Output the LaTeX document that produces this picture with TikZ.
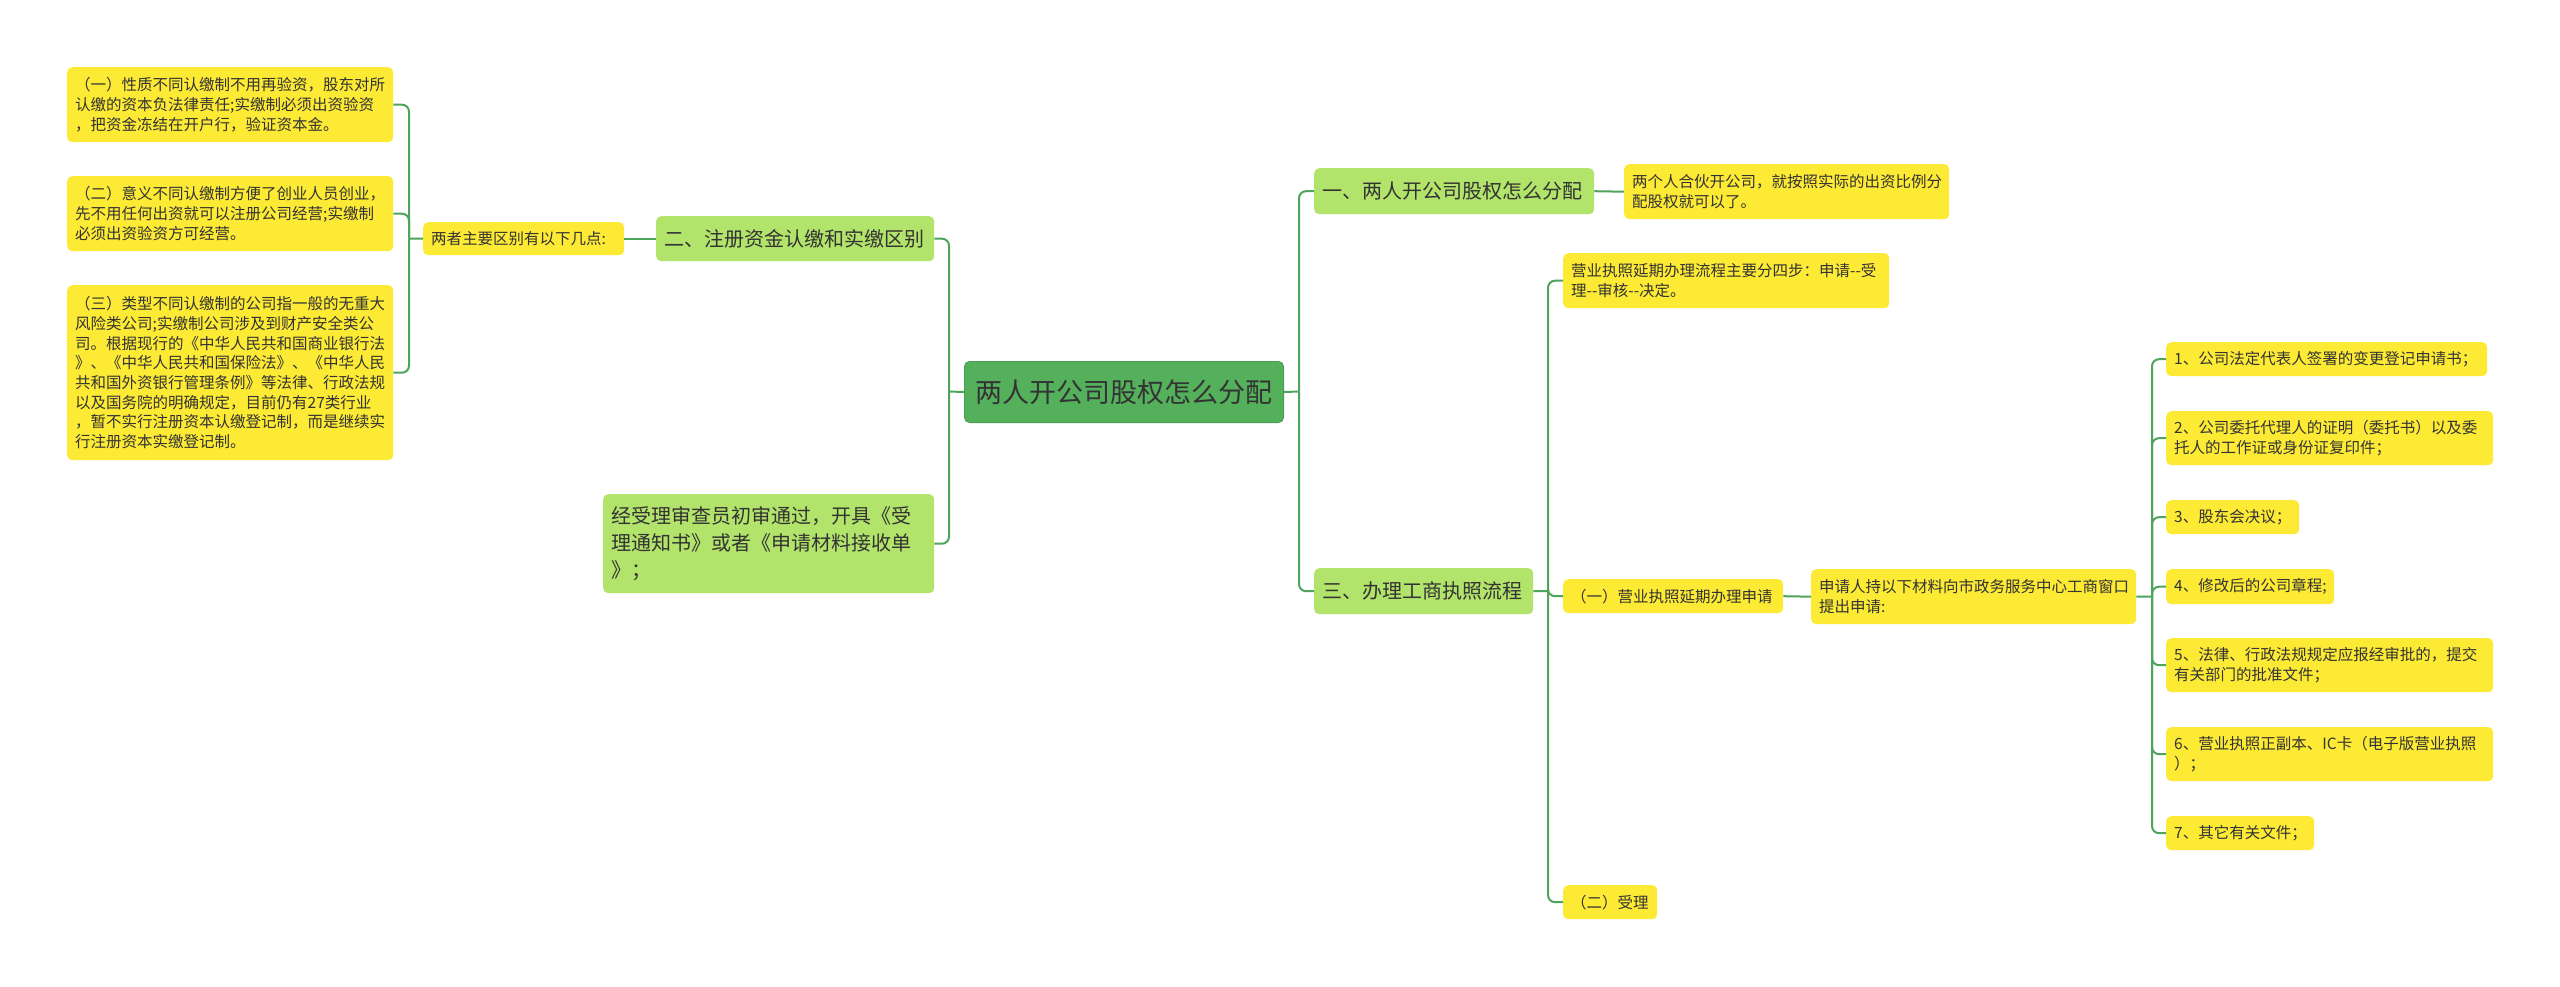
\documentclass[tikz,border=0pt]{standalone}
\usepackage{fontspec}
\newfontfamily\cjk{Noto Sans CJK SC}
\definecolor{yel}{HTML}{FDEA35}
\definecolor{lgr}{HTML}{B2E36A}
\definecolor{dgr}{HTML}{55B05C}
\definecolor{dgrb}{HTML}{4A9F52}
\definecolor{lnc}{HTML}{4EA45B}
\definecolor{txt}{HTML}{333333}
\begin{document}
\begin{tikzpicture}[x=1pt,y=-1pt,
  base/.style={rounded corners=5pt, inner xsep=8pt, inner ysep=0pt, anchor=north west, text=txt},
  ybox/.style={base, fill=yel, align=left, font=\cjk\fontsize{15.5}{19.7}\selectfont},
  gbox/.style={base, fill=lgr, align=left, font=\cjk\fontsize{20}{26.7}\selectfont},
  rbox/.style={base, fill=dgr, draw=dgrb, line width=1pt, align=center, font=\cjk\fontsize{27}{32}\selectfont},
  conn/.style={draw=lnc, line width=2pt, rounded corners=7pt}]
\fill[white] (0,0) rectangle (2560,987);
\useasboundingbox (0,0) rectangle (2560,987);

% root
\node[rbox, text width=303pt, minimum height=61pt] (root) at (964,361) {两人开公司股权怎么分配};

% left side
\node[gbox, text width=262pt, minimum height=45pt] (l1a) at (656,216) {二、注册资金认缴和实缴区别};
\node[gbox, text width=315pt, minimum height=99pt] (l1b) at (603,494) {经受理审查员初审通过，开具《受\\理通知书》或者《申请材料接收单\\》；};
\node[ybox, text width=185pt, minimum height=33pt] (lq) at (423,222) {两者主要区别有以下几点:};
\node[ybox, text width=310pt, minimum height=75pt] (y1) at (67,67) {（一）性质不同认缴制不用再验资，股东对所\\认缴的资本负法律责任;实缴制必须出资验资\\，把资金冻结在开户行，验证资本金。};
\node[ybox, text width=310pt, minimum height=75pt] (y2) at (67,176) {（二）意义不同认缴制方便了创业人员创业，\\先不用任何出资就可以注册公司经营;实缴制\\必须出资验资方可经营。};
\node[ybox, text width=310pt, minimum height=175pt] (y3) at (67,285) {（三）类型不同认缴制的公司指一般的无重大\\风险类公司;实缴制公司涉及到财产安全类公\\司。根据现行的《中华人民共和国商业银行法\\》、《中华人民共和国保险法》、《中华人民\\共和国外资银行管理条例》等法律、行政法规\\以及国务院的明确规定，目前仍有27类行业\\，暂不实行注册资本认缴登记制，而是继续实\\行注册资本实缴登记制。};

% right side
\node[gbox, text width=264pt, minimum height=46pt] (r1a) at (1314,168) {一、两人开公司股权怎么分配};
\node[ybox, text width=309pt, minimum height=55pt] (r1at) at (1624,164) {两个人合伙开公司，就按照实际的出资比例分\\配股权就可以了。};
\node[gbox, text width=203pt, minimum height=46pt] (r1b) at (1314,568) {三、办理工商执照流程};
\node[ybox, text width=310pt, minimum height=55pt] (yy) at (1563,253) {营业执照延期办理流程主要分四步：申请-{}-受\\理-{}-审核-{}-决定。};
\node[ybox, text width=204pt, minimum height=34pt] (s1) at (1563,579) {（一）营业执照延期办理申请};
\node[ybox, text width=309pt, minimum height=55pt] (sq) at (1811,569) {申请人持以下材料向市政务服务中心工商窗口\\提出申请:};
\node[ybox, text width=78pt, minimum height=34pt] (s2) at (1563,885) {（二）受理};

\node[ybox, text width=305pt, minimum height=34pt] (i1) at (2166,342) {1、公司法定代表人签署的变更登记申请书；};
\node[ybox, text width=311pt, minimum height=54pt] (i2) at (2166,411) {2、公司委托代理人的证明（委托书）以及委\\托人的工作证或身份证复印件；};
\node[ybox, text width=117pt, minimum height=34pt] (i3) at (2166,500) {3、股东会决议；};
\node[ybox, text width=152pt, minimum height=35pt] (i4) at (2166,569) {4、修改后的公司章程;};
\node[ybox, text width=311pt, minimum height=54pt] (i5) at (2166,638) {5、法律、行政法规规定应报经审批的，提交\\有关部门的批准文件；};
\node[ybox, text width=311pt, minimum height=54pt] (i6) at (2166,727) {6、营业执照正副本、IC卡（电子版营业执照\\）；};
\node[ybox, text width=132pt, minimum height=34pt] (i7) at (2166,816) {7、其它有关文件；};

% connectors left
\coordinate (lj) at (949,391.5);
\draw[conn] (root.west) -- (lj);
\draw[conn] (lj) |- (l1a.east);
\draw[conn] (lj) |- (l1b.east);
\draw[conn] (l1a.west) -- (lq.east);
\coordinate (qj) at (409,238.5);
\draw[conn] (lq.west) -- (qj);
\draw[conn] (qj) |- (y1.east);
\draw[conn] (qj) |- (y2.east);
\draw[conn] (qj) |- (y3.east);

% connectors right
\coordinate (rj) at (1299,391.5);
\draw[conn] (root.east) -- (rj);
\draw[conn] (rj) |- (r1a.west);
\draw[conn] (rj) |- (r1b.west);
\draw[conn] (r1a.east) -- (r1at.west);
\coordinate (bj) at (1548,591);
\draw[conn] (r1b.east) -- (bj);
\draw[conn] (bj) |- (yy.west);
\draw[conn] (bj) |- (s1.west);
\draw[conn] (bj) |- (s2.west);
\draw[conn] (s1.east) -- (sq.west);
\coordinate (ij) at (2152,596.5);
\draw[conn] (sq.east) -- (ij);
\foreach \n in {i1,i2,i3,i4,i5,i6,i7} {\draw[conn] (ij) |- (\n.west);}
\end{tikzpicture}
\end{document}
